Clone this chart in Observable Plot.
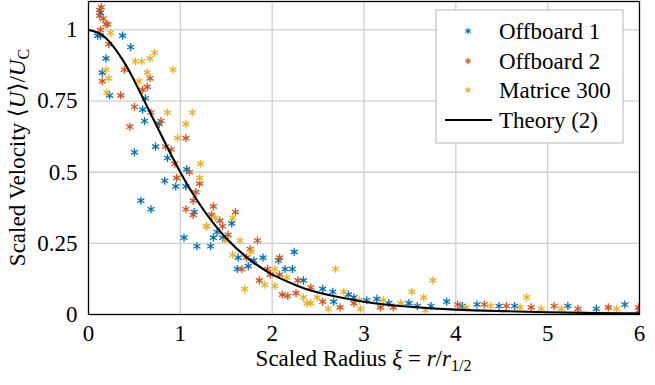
<!DOCTYPE html>
<html><head><meta charset="utf-8">
<script src="https://cdn.jsdelivr.net/npm/d3@7"></script>
<script src="https://cdn.jsdelivr.net/npm/@observablehq/plot@0.6"></script>
<style>body{margin:0;background:#fff} svg{display:block}</style>
</head><body><div id="chart"></div>
<script>
const seriesNames = ["Offboard 1", "Offboard 2", "Matrice 300"];
const seriesColors = ["#0072BD", "#D95319", "#EDB120"];
const xTicks = [0, 1, 2, 3, 4, 5, 6];
const yTicks = [0, 0.25, 0.5, 0.75, 1];
const yTickLabels = ["0", "0.25", "0.5", "0.75", "1"];

const offboard1 = [[0.13,1.06],[0.10,0.98],[0.13,0.98],[0.37,0.98],[0.46,0.94],[0.19,0.90],[0.15,0.85],[0.23,0.77],[0.62,0.76],[0.59,0.72],[0.61,0.68],[0.77,0.67],[0.50,0.57],[0.73,0.59],[0.86,0.55],[1.07,0.51],[0.83,0.47],[0.95,0.45],[1.06,0.45],[0.57,0.40],[0.68,0.37],[1.15,0.36],[1.04,0.27],[1.18,0.24],[1.56,0.32],[1.40,0.29],[1.36,0.27],[1.46,0.27],[1.33,0.24],[1.63,0.20],[1.80,0.19],[1.90,0.20],[2.24,0.22],[2.07,0.19],[1.74,0.17],[1.62,0.16],[2.14,0.16],[2.22,0.16],[2.34,0.12],[2.55,0.09],[2.66,0.08],[2.83,0.07],[2.67,0.045],[2.89,0.06],[3.03,0.05],[3.14,0.055],[3.27,0.04],[3.49,0.04],[3.58,0.03],[3.73,0.03],[3.90,0.045],[4.07,0.03],[4.23,0.035],[4.47,0.03],[4.64,0.03],[5.22,0.03],[5.53,0.02],[5.84,0.035],[6.0,0.015]];
const offboard2 = [[0.14,1.08],[0.12,1.07],[0.12,1.05],[0.16,1.04],[0.19,1.02],[0.21,1.02],[0.13,1.0],[0.22,0.95],[0.39,0.86],[0.15,0.82],[0.67,0.83],[0.64,0.80],[0.59,0.79],[0.35,0.77],[0.50,0.73],[0.68,0.71],[0.79,0.68],[0.45,0.66],[1.06,0.62],[0.84,0.59],[0.90,0.58],[0.94,0.53],[1.10,0.50],[0.96,0.48],[1.21,0.46],[1.17,0.43],[1.14,0.40],[1.06,0.37],[1.14,0.35],[1.36,0.38],[1.34,0.35],[1.60,0.36],[1.43,0.33],[1.46,0.31],[1.52,0.28],[1.84,0.26],[1.76,0.23],[1.72,0.20],[2.08,0.20],[1.67,0.16],[1.95,0.16],[1.98,0.14],[2.08,0.14],[1.86,0.12],[2.28,0.12],[2.11,0.07],[2.17,0.065],[2.26,0.075],[2.42,0.095],[2.55,0.045],[2.74,0.025],[2.89,0.04],[3.18,0.025],[3.32,0.025],[4.02,0.035],[4.31,0.035],[4.55,0.03],[4.82,0.025],[5.07,0.03],[5.33,0.02],[5.66,0.025],[5.99,0.025]];
const matrice300 = [[0.24,0.99],[0.72,0.92],[0.67,0.90],[0.58,0.89],[0.51,0.89],[0.92,0.86],[0.19,0.86],[0.22,0.83],[0.64,0.85],[0.55,0.82],[0.20,0.78],[0.86,0.71],[1.13,0.71],[1.06,0.67],[0.97,0.62],[1.22,0.53],[1.21,0.48],[1.28,0.31],[1.38,0.34],[1.57,0.34],[1.29,0.31],[1.49,0.26],[1.65,0.26],[1.77,0.22],[1.57,0.21],[2.03,0.16],[2.16,0.13],[1.92,0.105],[2.03,0.10],[1.70,0.09],[2.34,0.06],[2.38,0.04],[2.69,0.16],[3.75,0.12],[2.78,0.08],[3.52,0.08],[3.65,0.06],[2.49,0.06],[2.42,0.04],[2.61,0.02],[2.95,0.05],[3.21,0.05],[2.96,0.02],[3.40,0.04],[3.67,0.015],[4.11,0.025],[4.77,0.06],[4.38,0.03],[4.70,0.025],[4.93,0.02],[5.15,0.02],[5.75,0.02]];

const theoryXi = [0,0.125,0.25,0.375,0.5,0.75,1,1.25,1.5,1.75,2,2.25,2.5,3,3.5,4,4.5,5,5.5,6];
const theoryU  = [1,0.987,0.950,0.893,0.821,0.658,0.5,0.369,0.268,0.194,0.141,0.104,0.077,0.045,0.027,0.017,0.012,0.008,0.0055,0.004];

const seriesData = [offboard1, offboard2, matrice300];
const points = seriesData.flatMap((arr, k) => arr.map(([x, y]) => ({x, y, s: seriesNames[k]})));
const theory = theoryXi.map((x, i) => ({x, y: theoryU[i]}));

const font = "'Liberation Serif', 'DejaVu Serif', serif";
const FS = 23;
const W = 655, H = 385, mL = 88, mR = 16, mT = 1, mB = 71;
const R = 3.8;

const chart = Plot.plot({
  width: W, height: H,
  marginLeft: mL, marginRight: mR, marginTop: mT, marginBottom: mB,
  style: {fontFamily: font, fontSize: FS + "px", background: "#fff", color: "#000"},
  x: {domain: [0, 6]},
  y: {domain: [0, 1.1]},
  color: {domain: seriesNames, range: seriesColors},
  marks: [
    Plot.gridX(xTicks.slice(1, -1), {stroke: "#cfcfcf", strokeOpacity: 1, strokeWidth: 1.3}),
    Plot.gridY(yTicks.slice(1), {stroke: "#cfcfcf", strokeOpacity: 1, strokeWidth: 1.3}),
    Plot.dot(points, {x: "x", y: "y", stroke: "s", symbol: "asterisk", r: R, strokeWidth: 1.3, clip: true}),
    Plot.line(theory, {x: "x", y: "y", curve: "natural", stroke: "#000", strokeWidth: 2.1, clip: true}),
    Plot.frame({stroke: "#000", strokeWidth: 1.3}),
    Plot.axisX(xTicks, {tickSize: 0, tickPadding: 10, fontSize: FS, label: null, tickFormat: d => String(d)}),
    Plot.axisY(yTicks, {tickSize: 0, tickPadding: 11, fontSize: FS, label: null, tickFormat: d => yTickLabels[yTicks.indexOf(d)]})
  ]
});
document.getElementById("chart").appendChild(chart);

const svg = d3.select(chart);
// x label
const xl = svg.append("text").attr("x", (mL + W - mR) / 2).attr("y", 366)
  .attr("text-anchor", "middle").attr("font-family", font).attr("font-size", FS).attr("fill", "#000");
xl.append("tspan").text("Scaled Radius ");
xl.append("tspan").attr("font-style", "italic").text("ξ");
xl.append("tspan").text(" = ");
xl.append("tspan").attr("font-style", "italic").text("r");
xl.append("tspan").text("/");
xl.append("tspan").attr("font-style", "italic").text("r");
xl.append("tspan").attr("font-size", 16).attr("dy", 5).text("1/2");

// y label
const yc = (mT + H - mB) / 2;
const yl = svg.append("text").attr("transform", `translate(25,${yc}) rotate(-90)`)
  .attr("text-anchor", "middle").attr("font-family", font).attr("font-size", FS).attr("fill", "#000");
yl.append("tspan").text("Scaled Velocity ");
yl.append("tspan").text("⟨");
yl.append("tspan").attr("font-style", "italic").text("U");
yl.append("tspan").text("⟩/");
yl.append("tspan").attr("font-style", "italic").text("U");
yl.append("tspan").attr("font-size", 16).attr("dy", 4).text("C");

// legend
const lg = svg.append("g").attr("font-family", font).attr("font-size", FS).attr("text-anchor", "start");
lg.append("rect").attr("x", 436).attr("y", 10).attr("width", 187).attr("height", 133)
  .attr("fill", "#fff").attr("stroke", "#b5b5b5").attr("stroke-width", 1);
const rowsY = [31, 61, 90, 120];
const sym = d3.symbol(d3.symbolAsterisk, Math.PI * 2.9 * 2.9);
seriesNames.forEach((name, i) => {
  lg.append("path").attr("d", sym()).attr("transform", `translate(468,${rowsY[i]})`)
    .attr("fill", "none").attr("stroke", seriesColors[i]).attr("stroke-width", 1.2);
  lg.append("text").attr("x", 499).attr("y", rowsY[i]).attr("dy", "0.35em").attr("text-anchor", "start").text(name);
});
lg.append("line").attr("x1", 445).attr("x2", 492).attr("y1", rowsY[3]).attr("y2", rowsY[3])
  .attr("stroke", "#000").attr("stroke-width", 2.1);
lg.append("text").attr("x", 499).attr("y", rowsY[3]).attr("dy", "0.35em").attr("text-anchor", "start").text("Theory (2)");
</script>
</body></html>
